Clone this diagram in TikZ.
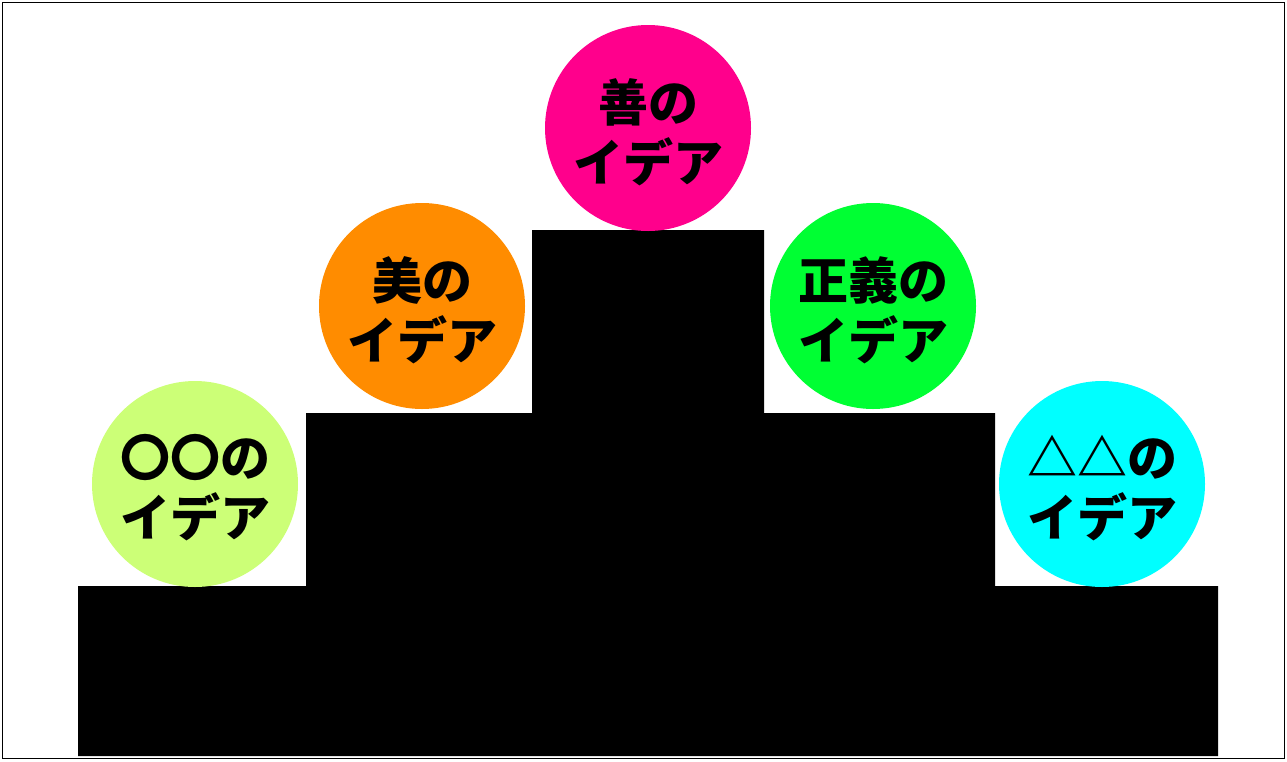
\documentclass[tikz,border=0pt]{standalone}
\usepackage{fontspec}
\newfontfamily\cjk{Noto Sans CJK JP}[BoldFont={Noto Sans CJK JP Black}]
\definecolor{cpink}{HTML}{FF008C}
\definecolor{corange}{HTML}{FF8C00}
\definecolor{cgreen}{HTML}{00FF33}
\definecolor{clime}{HTML}{CCFF77}
\definecolor{ccyan}{HTML}{00FFFF}
\begin{document}
\begin{tikzpicture}[x=1pt,y=-1pt,
  idea/.style={circle,minimum size=206pt,inner sep=0pt},
  idealabel/.style={align=center,inner sep=0pt,
    font=\cjk\bfseries\fontsize{50}{60}\selectfont}]
\useasboundingbox (0,0) rectangle (1287,761);
\draw[line width=1pt] (2.5,2.5) rectangle (1284.5,758.5);
\fill[black] (78,756) -- (78,586) -- (306,586) -- (306,413) -- (532,413) -- (532,230)
  -- (764,230) -- (764,413) -- (995,413) -- (995,586) -- (1218,586) -- (1218,756) -- cycle;
\node[idea,fill=cpink] (good) at (648,128) {};
\node[idea,fill=corange] (beauty) at (422,306) {};
\node[idea,fill=cgreen] (justice) at (873,306) {};
\node[idea,fill=clime] (circ) at (195,484) {};
\node[idea,fill=ccyan] (tri) at (1102,484) {};
\node[idealabel] (goodt) at ([yshift=-4pt]good.center) {善の\\イデア};
\node[idealabel] (beautyt) at ([yshift=-4pt]beauty.center) {美の\\イデア};
\node[idealabel] (justicet) at ([yshift=-4pt]justice.center) {正義の\\イデア};
\node[idealabel] (circt) at ([yshift=-4pt]circ.center) {〇〇の\\イデア};
\node[idealabel] (trit) at ([yshift=-4pt]tri.center) {△△の\\イデア};
\end{tikzpicture}
\end{document}
